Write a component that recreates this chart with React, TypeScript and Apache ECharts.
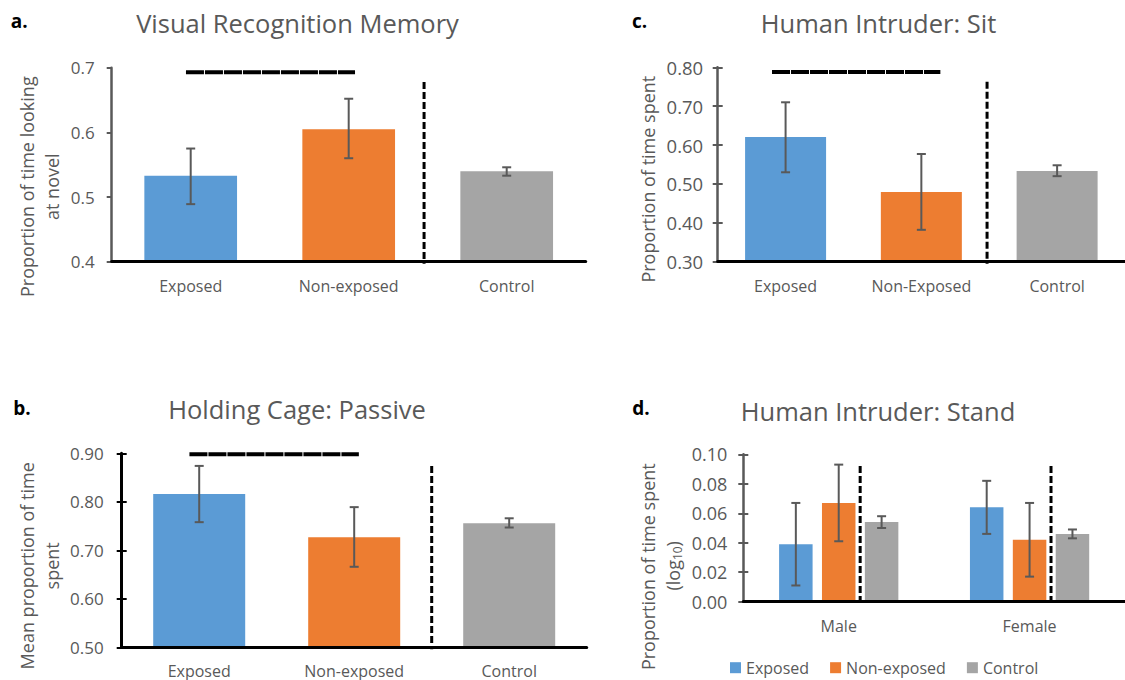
import React, { useEffect, useRef } from 'react';
import * as echarts from 'echarts';

// ---------------- data ----------------
// a. Visual Recognition Memory
const CATS_A = ['Exposed', 'Non-exposed', 'Control'];
const MEAN_A = [0.533, 0.605, 0.54];
const LOW_A = [0.489, 0.56, 0.533];
const HIGH_A = [0.575, 0.652, 0.546];
const YRANGE_A = [0.4, 0.7, 0.1];

// c. Human Intruder: Sit
const CATS_C = ['Exposed', 'Non-Exposed', 'Control'];
const MEAN_C = [0.621, 0.479, 0.533];
const LOW_C = [0.53, 0.382, 0.52];
const HIGH_C = [0.71, 0.577, 0.548];
const YRANGE_C = [0.3, 0.8, 0.1];

// b. Holding Cage: Passive
const CATS_B = ['Exposed', 'Non-exposed', 'Control'];
const MEAN_B = [0.816, 0.727, 0.756];
const LOW_B = [0.758, 0.666, 0.747];
const HIGH_B = [0.874, 0.789, 0.766];
const YRANGE_B = [0.5, 0.9, 0.1];

// d. Human Intruder: Stand
const CATS_D = ['Male', 'Female'];
const SERIES_D = ['Exposed', 'Non-exposed', 'Control'];
const D_EXPOSED = [0.039, 0.064];
const D_EXPOSED_LOW = [0.011, 0.046];
const D_EXPOSED_HIGH = [0.067, 0.082];
const D_NONEXP = [0.067, 0.042];
const D_NONEXP_LOW = [0.041, 0.017];
const D_NONEXP_HIGH = [0.093, 0.067];
const D_CONTROL = [0.054, 0.046];
const D_CONTROL_LOW = [0.05, 0.043];
const D_CONTROL_HIGH = [0.058, 0.049];
const YRANGE_D = [0, 0.1, 0.02];

const TITLES = ['Visual Recognition Memory', 'Human Intruder: Sit', 'Holding Cage: Passive', 'Human Intruder: Stand'];
const LETTERS = ['a.', 'c.', 'b.', 'd.'];

// ---------------- styles ----------------
const FONT = '"Open Sans", "Noto Sans", sans-serif';
const TEXT = '#595959';
const COLORS = ['#5B9BD5', '#ED7D31', '#A5A5A5'];
const ERR = '#595959';
const D_BAR_WIDTH = 33.5;
const D_GAP = 0.28;

type Panel = {
  cats: string[];
  means?: number[];
  low?: number[];
  high?: number[];
  y: number[];
  dec: number;
  grid: { left: number; top: number; width: number; height: number };
  axisColor: string;
  axisWidth: number;
  labelSize: number;
  labelMargin: number;
  cross: boolean;
  barWidth?: number;
  sig?: { from: number[]; to: number[]; y: number };
  divs: { idx: number; frac?: number; px?: number; top: number }[];
};

const PANELS: Panel[] = [
  {
    cats: CATS_A, means: MEAN_A, low: LOW_A, high: HIGH_A, y: YRANGE_A, dec: 1,
    grid: { left: 111.7, top: 67.7, width: 474, height: 194 },
    axisColor: '#595959', axisWidth: 2.5, labelSize: 17, labelMargin: 17, cross: false, barWidth: 92.7,
    sig: { from: [0, -0.03], to: [1, 0.04], y: 0.693 },
    divs: [{ idx: 1, frac: 0.477, top: 0.678 }],
  },
  {
    cats: CATS_C, means: MEAN_C, low: LOW_C, high: HIGH_C, y: YRANGE_C, dec: 2,
    grid: { left: 717.7, top: 67.3, width: 412, height: 194.4 },
    axisColor: '#595959', axisWidth: 2.5, labelSize: 18.5, labelMargin: 14.5, cross: true, barWidth: 81,
    sig: { from: [0, -0.1], to: [1, 0.14], y: 0.788 },
    divs: [{ idx: 1, frac: 0.484, top: 0.763 }],
  },
  {
    cats: CATS_B, means: MEAN_B, low: LOW_B, high: HIGH_B, y: YRANGE_B, dec: 2,
    grid: { left: 121.7, top: 453.3, width: 465, height: 194 },
    axisColor: '#000000', axisWidth: 3, labelSize: 17, labelMargin: 18, cross: true, barWidth: 92,
    sig: { from: [0, -0.063], to: [1, 0.03], y: 0.898 },
    divs: [{ idx: 1, frac: 0.5, top: 0.874 }],
  },
  {
    cats: CATS_D, y: YRANGE_D, dec: 2,
    grid: { left: 743.3, top: 454.3, width: 387, height: 147.4 },
    axisColor: '#595959', axisWidth: 2.5, labelSize: 18, labelMargin: 16, cross: true,
    divs: [
      { idx: 0, px: D_BAR_WIDTH / 2 + (D_BAR_WIDTH * D_GAP) / 2, top: 0.092 },
      { idx: 1, px: D_BAR_WIDTH / 2 + (D_BAR_WIDTH * D_GAP) / 2, top: 0.092 },
    ],
  },
];

function errRenderer(offsetPx: number) {
  return (params: any, api: any) => {
    const hi = api.coord([api.value(0), api.value(2)]);
    const lo = api.coord([api.value(0), api.value(1)]);
    const x = hi[0] + offsetPx;
    const cap = 4.5;
    const st = { stroke: ERR, lineWidth: 2 };
    return {
      type: 'group',
      children: [
        { type: 'line', shape: { x1: x, y1: hi[1], x2: x, y2: lo[1] }, style: st },
        { type: 'line', shape: { x1: x - cap, y1: hi[1], x2: x + cap, y2: hi[1] }, style: st },
        { type: 'line', shape: { x1: x - cap, y1: lo[1], x2: x + cap, y2: lo[1] }, style: st },
      ],
    };
  };
}

function decoRenderer(p: Panel) {
  return (params: any, api: any) => {
    const band = api.size([1, 0])[0];
    const cx = (idx: number) => api.coord([idx, p.y[0]])[0];
    const py = (v: number) => api.coord([0, v])[1];
    const base = py(p.y[0]);
    const children: any[] = [];
    if (p.sig) {
      const yy = py(p.sig.y);
      children.push({
        type: 'line',
        shape: { x1: cx(p.sig.from[0]) + p.sig.from[1] * band, y1: yy, x2: cx(p.sig.to[0]) + p.sig.to[1] * band, y2: yy },
        style: { stroke: '#000', lineWidth: 4, lineDash: [18, 1] },
      });
    }
    p.divs.forEach((d) => {
      const x = cx(d.idx) + (d.frac || 0) * band + (d.px || 0);
      children.push({
        type: 'line',
        shape: { x1: x, y1: py(d.top), x2: x, y2: base + 2 },
        style: { stroke: '#000', lineWidth: 3, lineDash: [7, 3] },
      });
    });
    return { type: 'group', children };
  };
}

function buildOption() {
  const grid = PANELS.map((p) => ({ ...p.grid }));
  const xAxis = PANELS.map((p, i) => ({
    type: 'category',
    gridIndex: i,
    data: p.cats,
    z: 10,
    axisLine: { show: true, onZero: false, lineStyle: { color: '#000', width: 3 } },
    axisTick: { show: false },
    axisLabel: { color: TEXT, fontSize: 16, fontFamily: FONT, margin: 16, interval: 0 },
    splitLine: { show: false },
  }));
  const yAxis: any[] = PANELS.map((p, i) => ({
    type: 'value',
    gridIndex: i,
    min: p.y[0],
    max: p.y[1],
    interval: p.y[2],
    position: 'left',
    z: 9,
    axisLine: { show: true, lineStyle: { color: p.axisColor, width: p.axisWidth } },
    axisTick: { show: true, length: 5, lineStyle: { color: p.axisColor, width: 2 } },
    axisLabel: {
      color: TEXT,
      fontSize: p.labelSize,
      fontFamily: FONT,
      margin: p.labelMargin,
      formatter: (v: number) => v.toFixed(p.dec),
    },
    splitLine: { show: false },
  }));
  PANELS.forEach((p, i) => {
    if (!p.cross) return;
    yAxis.push({
      type: 'value',
      gridIndex: i,
      min: p.y[0],
      max: p.y[1],
      interval: p.y[2],
      position: 'left',
      z: 9,
      axisLine: { show: false },
      axisTick: { show: true, inside: true, length: 5, lineStyle: { color: p.axisColor, width: 2 } },
      axisLabel: { show: false },
      splitLine: { show: false },
    });
  });

  const series: any[] = [];
  PANELS.forEach((p, i) => {
    if (p.means) {
      series.push({
        type: 'bar',
        name: 'bars-' + i,
        xAxisIndex: i,
        yAxisIndex: i,
        barWidth: p.barWidth,
        z: 2,
        data: p.means.map((v, k) => ({ value: v, itemStyle: { color: COLORS[k] } })),
      });
      series.push({
        type: 'custom',
        name: 'err-' + i,
        xAxisIndex: i,
        yAxisIndex: i,
        z: 3,
        silent: true,
        encode: { x: 0, y: [1, 2] },
        data: p.cats.map((_, k) => [k, p.low![k], p.high![k]]),
        renderItem: errRenderer(0),
      });
    }
    series.push({
      type: 'custom',
      name: 'deco-' + i,
      xAxisIndex: i,
      yAxisIndex: i,
      z: 4,
      silent: true,
      encode: { x: 0, y: 1 },
      data: [[0, p.y[0]]],
      renderItem: decoRenderer(p),
    });
  });

  const dMeans = [D_EXPOSED, D_NONEXP, D_CONTROL];
  const dLows = [D_EXPOSED_LOW, D_NONEXP_LOW, D_CONTROL_LOW];
  const dHighs = [D_EXPOSED_HIGH, D_NONEXP_HIGH, D_CONTROL_HIGH];
  SERIES_D.forEach((name, k) => {
    series.push({
      type: 'bar',
      name,
      xAxisIndex: 3,
      yAxisIndex: 3,
      barWidth: D_BAR_WIDTH,
      barGap: D_GAP * 100 + '%',
      z: 2,
      itemStyle: { color: COLORS[k] },
      data: dMeans[k],
    });
  });
  SERIES_D.forEach((name, k) => {
    series.push({
      type: 'custom',
      name: 'err-d-' + k,
      xAxisIndex: 3,
      yAxisIndex: 3,
      z: 3,
      silent: true,
      encode: { x: 0, y: [1, 2] },
      data: CATS_D.map((_, c) => [c, dLows[k][c], dHighs[k][c]]),
      renderItem: errRenderer((k - 1) * D_BAR_WIDTH * (1 + D_GAP)),
    });
  });

  const txt = (text: string, x: number, y: number, size: number, opts: any = {}) => ({
    type: 'text',
    x,
    y,
    rotation: opts.rot ? Math.PI / 2 : 0,
    silent: true,
    style: {
      text,
      fill: opts.fill || TEXT,
      fontSize: size,
      fontFamily: FONT,
      fontWeight: opts.bold ? 'bold' : 'normal',
      align: 'center',
      verticalAlign: 'middle',
    },
  });

  const graphic: any[] = [
    txt(TITLES[0], 297.5, 23.4, 25.5),
    txt(TITLES[1], 878.5, 23.4, 25.5),
    txt(TITLES[2], 297, 409.4, 25.5),
    txt(TITLES[3], 878, 410.8, 25.5),
    txt(LETTERS[0], 19.3, 21, 19, { bold: true, fill: '#000' }),
    txt(LETTERS[1], 639.5, 21, 19, { bold: true, fill: '#000' }),
    txt(LETTERS[2], 22, 407.6, 19, { bold: true, fill: '#000' }),
    txt(LETTERS[3], 641, 408, 19, { bold: true, fill: '#000' }),
    txt('Proportion of time looking', 27, 186.7, 18, { rot: true }),
    txt('at novel', 52, 186.7, 18, { rot: true }),
    txt('Proportion of time spent', 647.5, 179.2, 18, { rot: true }),
    txt('Mean proportion of time', 27, 565.8, 18, { rot: true }),
    txt('spent', 52, 565.8, 18, { rot: true }),
    txt('Proportion of time spent', 647.5, 566.7, 18, { rot: true }),
    {
      type: 'text',
      x: 672.5,
      y: 565.8,
      rotation: Math.PI / 2,
      silent: true,
      style: {
        text: '{a|(log}{s|10}{a|)}',
        align: 'center',
        verticalAlign: 'middle',
        rich: {
          a: { fontSize: 18, fontFamily: FONT, fill: TEXT, lineHeight: 22 },
          s: { fontSize: 12, fontFamily: FONT, fill: TEXT, lineHeight: 12, verticalAlign: 'bottom' },
        },
      },
    },
  ];

  return {
    animation: false,
    backgroundColor: '#ffffff',
    grid,
    xAxis,
    yAxis,
    series,
    legend: {
      data: SERIES_D,
      left: 730,
      top: 659.7,
      padding: 0,
      itemWidth: 11,
      itemHeight: 11,
      itemGap: 21,
      icon: 'rect',
      selectedMode: false,
      textStyle: { fontSize: 16, color: TEXT, fontFamily: FONT },
    },
    graphic,
  };
}

export default function App() {
  const ref = useRef<HTMLDivElement>(null);
  useEffect(() => {
    if (!ref.current) return;
    const chart = echarts.init(ref.current, null, { renderer: 'svg' });
    chart.setOption(buildOption() as any);
    return () => chart.dispose();
  }, []);
  return (
    <div
      ref={ref}
      style={{ position: 'absolute', left: 0, top: 0, width: 1125, height: 680, background: '#fff' }}
    />
  );
}
